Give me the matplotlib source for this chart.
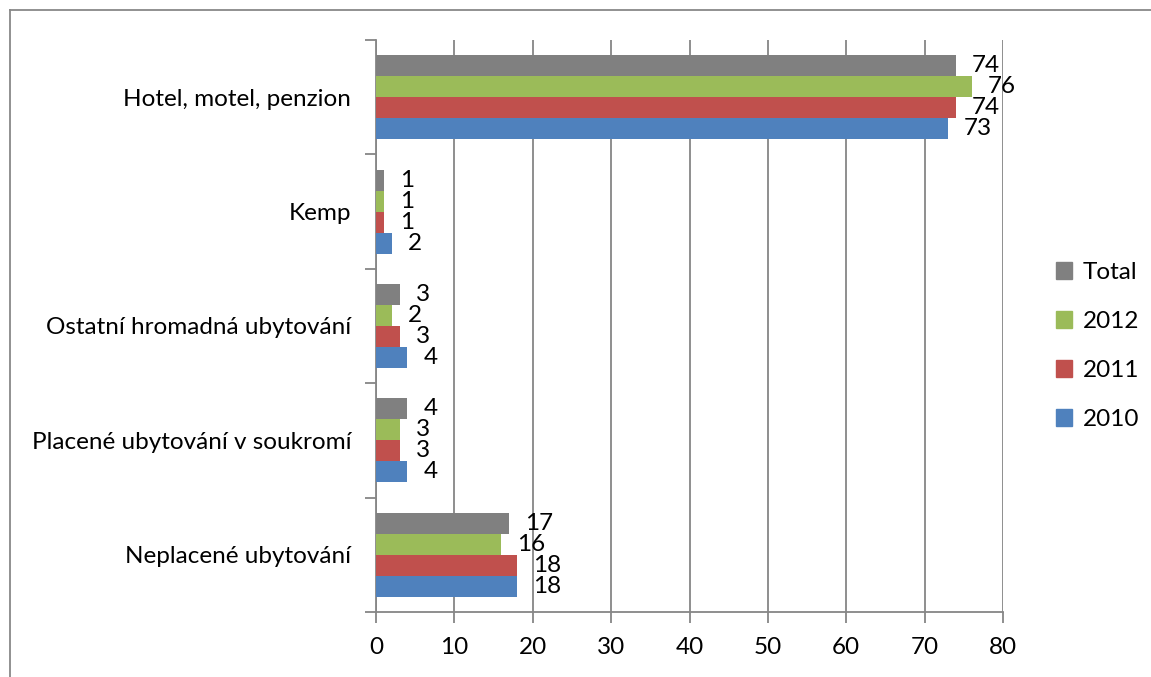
import numpy as np
import matplotlib.pyplot as plt
from matplotlib.lines import Line2D
from matplotlib.patches import Patch

# categories top to bottom
kategorie = ['Hotel, motel, penzion', 'Kemp', 'Ostatní hromadná ubytování',
             'Placené ubytování v soukromí', 'Neplacené ubytování']
serie = ['Total', '2012', '2011', '2010']
hodnoty_total = [74, 1, 3, 4, 17]
hodnoty_2012 = [76, 1, 2, 3, 16]
hodnoty_2011 = [74, 1, 3, 3, 18]
hodnoty_2010 = [73, 2, 4, 4, 18]
barvy = ['#808080', '#9BBB59', '#C0504D', '#4F81BD']

plt.rcParams['font.family'] = ['Lato', 'DejaVu Sans']
fs = 17.5

fig = plt.figure(figsize=(11.51, 6.77), dpi=100)
ax = fig.add_axes([376 / 1151, 1 - 612 / 677, (1003 - 376) / 1151, (612 - 40) / 677])

y = np.arange(len(kategorie))
h = 0.184
data = [hodnoty_total, hodnoty_2012, hodnoty_2011, hodnoty_2010]
for i, (vals, c, name) in enumerate(zip(data, barvy, serie)):
    pos = y + (i - 1.5) * h
    ax.barh(pos, vals, height=h, color=c, label=name, zorder=3)
    for p, v in zip(pos, vals):
        ax.annotate(str(v), (v, p), xytext=(16, 0), textcoords='offset pixels',
                    ha='left', va='center', fontsize=fs, zorder=4)

ax.set_xlim(0, 80)
ax.set_ylim(4.5, -0.5)
ax.set_xticks(range(0, 81, 10))
ax.set_yticks(y)
ax.set_yticklabels(kategorie)
ax.set_yticks(np.arange(-0.5, 4.6, 1), minor=True)
ax.tick_params(axis='y', which='major', length=0, pad=18, labelsize=fs)
ax.tick_params(axis='y', which='minor', length=8, width=1.3, color='#868686')
ax.tick_params(axis='x', length=8, width=1.3, color='#868686', labelsize=fs, pad=10)

ax.grid(axis='x', color='#868686', linewidth=1.3, zorder=0)
for s in ['top', 'right']:
    ax.spines[s].set_visible(False)
for s in ['left', 'bottom']:
    ax.spines[s].set_color('#868686')
    ax.spines[s].set_linewidth(1.3)

handles = [Patch(color=c) for c in barvy]
fig.legend(handles, serie, loc='center left', bbox_to_anchor=(1034 / 1151, 1 - 346 / 677),
           frameon=False, fontsize=fs, handlelength=0.65, handleheight=0.65,
           labelspacing=1.15, handletextpad=0.45)

# outer chart border
fig.add_artist(Line2D([10 / 1151, 10 / 1151], [0, 1 - 10 / 677], transform=fig.transFigure,
                      color='#888888', linewidth=1.3))
fig.add_artist(Line2D([10 / 1151, 1], [1 - 10 / 677, 1 - 10 / 677], transform=fig.transFigure,
                      color='#888888', linewidth=1.3))

fig.savefig('out.png', dpi=100)
